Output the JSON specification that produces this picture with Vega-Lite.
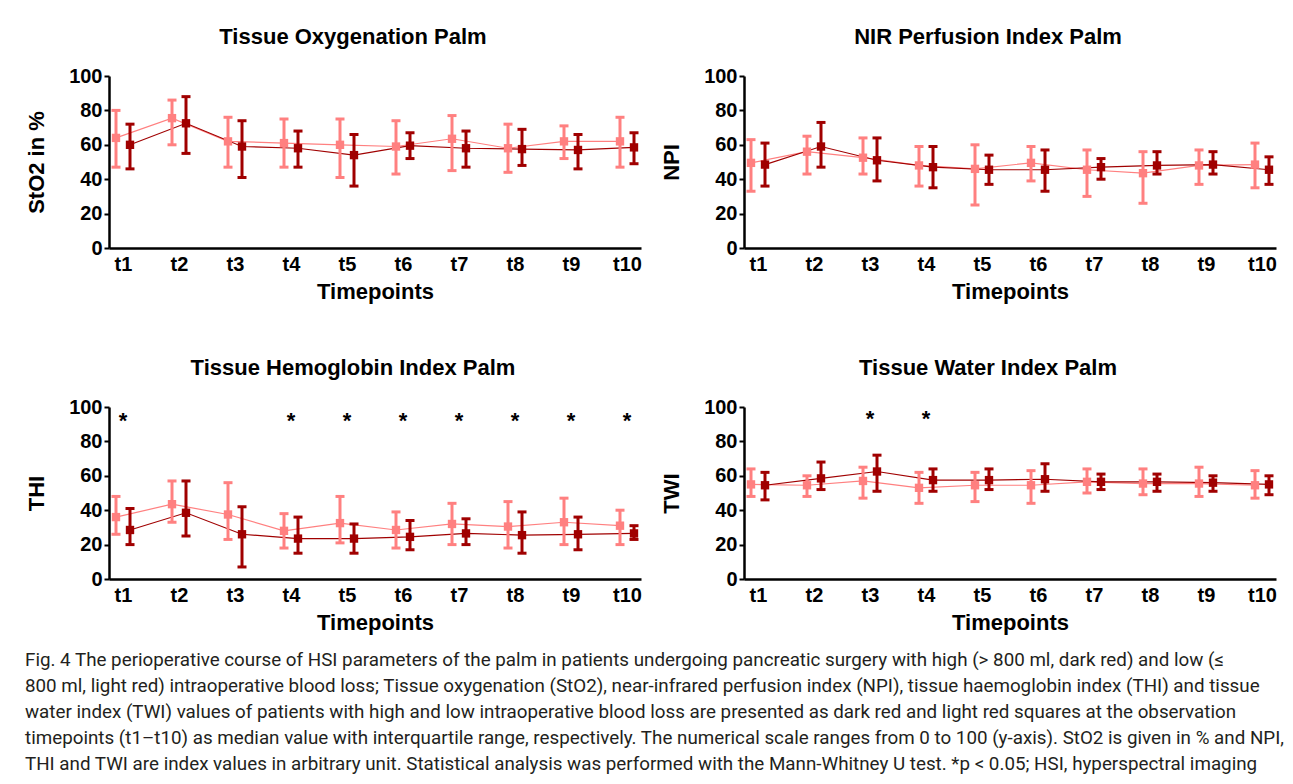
{
  "$schema": "https://vega.github.io/schema/vega-lite/v6.json",
  "background": "white",
  "padding": {"left": 25, "top": 26, "right": 0, "bottom": 0},
  "datasets": {
    "hsi": [
      {"panel": "StO2", "t": "t1", "g": "low", "med": 64, "lo": 47, "hi": 80},
      {"panel": "StO2", "t": "t2", "g": "low", "med": 75.5, "lo": 60, "hi": 86},
      {"panel": "StO2", "t": "t3", "g": "low", "med": 62, "lo": 47, "hi": 76},
      {"panel": "StO2", "t": "t4", "g": "low", "med": 61, "lo": 47, "hi": 75},
      {"panel": "StO2", "t": "t5", "g": "low", "med": 60, "lo": 41, "hi": 75},
      {"panel": "StO2", "t": "t6", "g": "low", "med": 59, "lo": 43, "hi": 74},
      {"panel": "StO2", "t": "t7", "g": "low", "med": 63.5, "lo": 45, "hi": 77},
      {"panel": "StO2", "t": "t8", "g": "low", "med": 58, "lo": 44, "hi": 72},
      {"panel": "StO2", "t": "t9", "g": "low", "med": 62, "lo": 52, "hi": 71},
      {"panel": "StO2", "t": "t10", "g": "low", "med": 62, "lo": 47, "hi": 76},
      {"panel": "StO2", "t": "t1", "g": "high", "med": 60, "lo": 46, "hi": 72},
      {"panel": "StO2", "t": "t2", "g": "high", "med": 72.5, "lo": 55, "hi": 88},
      {"panel": "StO2", "t": "t3", "g": "high", "med": 59, "lo": 41, "hi": 74},
      {"panel": "StO2", "t": "t4", "g": "high", "med": 58, "lo": 47, "hi": 68},
      {"panel": "StO2", "t": "t5", "g": "high", "med": 54, "lo": 36, "hi": 66},
      {"panel": "StO2", "t": "t6", "g": "high", "med": 59.5, "lo": 52, "hi": 67},
      {"panel": "StO2", "t": "t7", "g": "high", "med": 58, "lo": 47, "hi": 68},
      {"panel": "StO2", "t": "t8", "g": "high", "med": 57.5, "lo": 48, "hi": 69},
      {"panel": "StO2", "t": "t9", "g": "high", "med": 57, "lo": 46, "hi": 66},
      {"panel": "StO2", "t": "t10", "g": "high", "med": 58.5, "lo": 49, "hi": 67},

      {"panel": "NPI", "t": "t1", "g": "low", "med": 49.5, "lo": 33, "hi": 63},
      {"panel": "NPI", "t": "t2", "g": "low", "med": 56, "lo": 43, "hi": 65},
      {"panel": "NPI", "t": "t3", "g": "low", "med": 52.5, "lo": 43, "hi": 64},
      {"panel": "NPI", "t": "t4", "g": "low", "med": 48, "lo": 36, "hi": 59},
      {"panel": "NPI", "t": "t5", "g": "low", "med": 46, "lo": 25, "hi": 60},
      {"panel": "NPI", "t": "t6", "g": "low", "med": 49.5, "lo": 39, "hi": 59},
      {"panel": "NPI", "t": "t7", "g": "low", "med": 45.5, "lo": 30, "hi": 57},
      {"panel": "NPI", "t": "t8", "g": "low", "med": 43.5, "lo": 26, "hi": 56},
      {"panel": "NPI", "t": "t9", "g": "low", "med": 48, "lo": 37, "hi": 57},
      {"panel": "NPI", "t": "t10", "g": "low", "med": 48.5, "lo": 35, "hi": 61},
      {"panel": "NPI", "t": "t1", "g": "high", "med": 48.5, "lo": 36, "hi": 61},
      {"panel": "NPI", "t": "t2", "g": "high", "med": 59, "lo": 47, "hi": 73},
      {"panel": "NPI", "t": "t3", "g": "high", "med": 51, "lo": 39, "hi": 64},
      {"panel": "NPI", "t": "t4", "g": "high", "med": 47, "lo": 35, "hi": 59},
      {"panel": "NPI", "t": "t5", "g": "high", "med": 45.5, "lo": 37, "hi": 54},
      {"panel": "NPI", "t": "t6", "g": "high", "med": 45.5, "lo": 33, "hi": 57},
      {"panel": "NPI", "t": "t7", "g": "high", "med": 47, "lo": 40, "hi": 52},
      {"panel": "NPI", "t": "t8", "g": "high", "med": 48, "lo": 43, "hi": 56},
      {"panel": "NPI", "t": "t9", "g": "high", "med": 48.5, "lo": 43, "hi": 56},
      {"panel": "NPI", "t": "t10", "g": "high", "med": 45.5, "lo": 37, "hi": 53},

      {"panel": "THI", "t": "t1", "g": "low", "med": 36, "lo": 26, "hi": 48},
      {"panel": "THI", "t": "t2", "g": "low", "med": 43.5, "lo": 33, "hi": 57},
      {"panel": "THI", "t": "t3", "g": "low", "med": 37.5, "lo": 23, "hi": 56},
      {"panel": "THI", "t": "t4", "g": "low", "med": 28, "lo": 18, "hi": 38},
      {"panel": "THI", "t": "t5", "g": "low", "med": 32.5, "lo": 21, "hi": 48},
      {"panel": "THI", "t": "t6", "g": "low", "med": 28.5, "lo": 18, "hi": 39},
      {"panel": "THI", "t": "t7", "g": "low", "med": 32, "lo": 20, "hi": 44},
      {"panel": "THI", "t": "t8", "g": "low", "med": 30.5, "lo": 18, "hi": 45},
      {"panel": "THI", "t": "t9", "g": "low", "med": 33, "lo": 20, "hi": 47},
      {"panel": "THI", "t": "t10", "g": "low", "med": 31, "lo": 20, "hi": 40},
      {"panel": "THI", "t": "t1", "g": "high", "med": 28.5, "lo": 20, "hi": 41},
      {"panel": "THI", "t": "t2", "g": "high", "med": 38.5, "lo": 25, "hi": 57},
      {"panel": "THI", "t": "t3", "g": "high", "med": 26, "lo": 7, "hi": 42},
      {"panel": "THI", "t": "t4", "g": "high", "med": 23.5, "lo": 15, "hi": 36},
      {"panel": "THI", "t": "t5", "g": "high", "med": 23.5, "lo": 15, "hi": 32},
      {"panel": "THI", "t": "t6", "g": "high", "med": 24.5, "lo": 17, "hi": 34},
      {"panel": "THI", "t": "t7", "g": "high", "med": 26.5, "lo": 20, "hi": 35},
      {"panel": "THI", "t": "t8", "g": "high", "med": 25.5, "lo": 15, "hi": 39},
      {"panel": "THI", "t": "t9", "g": "high", "med": 26, "lo": 17, "hi": 36},
      {"panel": "THI", "t": "t10", "g": "high", "med": 26.5, "lo": 23, "hi": 31},

      {"panel": "TWI", "t": "t1", "g": "low", "med": 55, "lo": 48, "hi": 64},
      {"panel": "TWI", "t": "t2", "g": "low", "med": 54.5, "lo": 48, "hi": 60},
      {"panel": "TWI", "t": "t3", "g": "low", "med": 57, "lo": 47, "hi": 65},
      {"panel": "TWI", "t": "t4", "g": "low", "med": 53, "lo": 44, "hi": 62},
      {"panel": "TWI", "t": "t5", "g": "low", "med": 54.5, "lo": 45, "hi": 62},
      {"panel": "TWI", "t": "t6", "g": "low", "med": 54.5, "lo": 44, "hi": 63},
      {"panel": "TWI", "t": "t7", "g": "low", "med": 56.5, "lo": 50, "hi": 64},
      {"panel": "TWI", "t": "t8", "g": "low", "med": 55.5, "lo": 49, "hi": 64},
      {"panel": "TWI", "t": "t9", "g": "low", "med": 55.5, "lo": 48, "hi": 65},
      {"panel": "TWI", "t": "t10", "g": "low", "med": 54.5, "lo": 47, "hi": 63},
      {"panel": "TWI", "t": "t1", "g": "high", "med": 54.5, "lo": 46, "hi": 62},
      {"panel": "TWI", "t": "t2", "g": "high", "med": 58.5, "lo": 52, "hi": 68},
      {"panel": "TWI", "t": "t3", "g": "high", "med": 62.5, "lo": 51, "hi": 72},
      {"panel": "TWI", "t": "t4", "g": "high", "med": 57.5, "lo": 51, "hi": 64},
      {"panel": "TWI", "t": "t5", "g": "high", "med": 57.5, "lo": 52, "hi": 64},
      {"panel": "TWI", "t": "t6", "g": "high", "med": 58, "lo": 51, "hi": 67},
      {"panel": "TWI", "t": "t7", "g": "high", "med": 56.5, "lo": 52, "hi": 61},
      {"panel": "TWI", "t": "t8", "g": "high", "med": 56.5, "lo": 51, "hi": 61},
      {"panel": "TWI", "t": "t9", "g": "high", "med": 56, "lo": 51, "hi": 60},
      {"panel": "TWI", "t": "t10", "g": "high", "med": 55, "lo": 49, "hi": 60}
    ],
    "stars": [
      {"panel": "THI", "t": "t1"},
      {"panel": "THI", "t": "t4"},
      {"panel": "THI", "t": "t5"},
      {"panel": "THI", "t": "t6"},
      {"panel": "THI", "t": "t7"},
      {"panel": "THI", "t": "t8"},
      {"panel": "THI", "t": "t9"},
      {"panel": "THI", "t": "t10"},
      {"panel": "TWI", "t": "t3"},
      {"panel": "TWI", "t": "t4"}
    ]
  },
  "title": {
    "text": [
      "Fig. 4 The perioperative course of HSI parameters of the palm in patients undergoing pancreatic surgery with high (> 800 ml, dark red) and low (≤",
      "800 ml, light red) intraoperative blood loss; Tissue oxygenation (StO2), near-infrared perfusion index (NPI), tissue haemoglobin index (THI) and tissue",
      "water index (TWI) values of patients with high and low intraoperative blood loss are presented as dark red and light red squares at the observation",
      "timepoints (t1–t10) as median value with interquartile range, respectively. The numerical scale ranges from 0 to 100 (y-axis). StO2 is given in % and NPI,",
      "THI and TWI are index values in arbitrary unit. Statistical analysis was performed with the Mann-Whitney U test. *p < 0.05; HSI, hyperspectral imaging"
    ],
    "orient": "bottom",
    "anchor": "start",
    "frame": "bounds",
    "font": "Roboto",
    "fontSize": 18.8,
    "fontWeight": "normal",
    "lineHeight": 26,
    "color": "#231f20",
    "offset": 18
  },
  "vconcat": [
    {
      "hconcat": [
        {
          "width": 532, "height": 172,
          "title": {"text": "Tissue Oxygenation Palm", "dx": -22},
          "data": {"name": "hsi"},
          "transform": [{"filter": "datum.panel == 'StO2'"}],
          "encoding": {
            "x": {"field": "t", "type": "ordinal", "title": "Timepoints",
                  "scale": {"type": "point", "padding": 0.25, "domain": ["t1","t2","t3","t4","t5","t6","t7","t8","t9","t10"]}}
          },
          "layer": [
            {"transform": [{"filter": "datum.g == 'low'"}], "mark": {"type": "line", "color": "#FF8080", "strokeWidth": 1.2, "xOffset": -7},
             "encoding": {"y": {"field": "med", "type": "quantitative", "title": "StO2 in %", "scale": {"domain": [0, 100], "nice": false}}}},
            {"transform": [{"filter": "datum.g == 'high'"}], "mark": {"type": "line", "color": "#A00000", "strokeWidth": 1.2, "xOffset": 7},
             "encoding": {"y": {"field": "med", "type": "quantitative", "title": "StO2 in %", "scale": {"domain": [0, 100], "nice": false}}}},
            {"transform": [{"filter": "datum.g == 'low'"}], "mark": {"type": "rule", "color": "#FF8080", "strokeWidth": 3, "xOffset": -7},
             "encoding": {"y": {"field": "lo", "type": "quantitative", "title": "StO2 in %", "scale": {"domain": [0, 100], "nice": false}}, "y2": {"field": "hi"}}},
            {"transform": [{"filter": "datum.g == 'high'"}], "mark": {"type": "rule", "color": "#A00000", "strokeWidth": 3, "xOffset": 7},
             "encoding": {"y": {"field": "lo", "type": "quantitative", "title": "StO2 in %", "scale": {"domain": [0, 100], "nice": false}}, "y2": {"field": "hi"}}},
            {"transform": [{"filter": "datum.g == 'low'"}], "mark": {"type": "tick", "color": "#FF8080", "size": 9, "thickness": 3, "xOffset": -7, "opacity": 1},
             "encoding": {"y": {"field": "lo", "type": "quantitative", "title": "StO2 in %", "scale": {"domain": [0, 100], "nice": false}}}},
            {"transform": [{"filter": "datum.g == 'low'"}], "mark": {"type": "tick", "color": "#FF8080", "size": 9, "thickness": 3, "xOffset": -7, "opacity": 1},
             "encoding": {"y": {"field": "hi", "type": "quantitative", "title": "StO2 in %", "scale": {"domain": [0, 100], "nice": false}}}},
            {"transform": [{"filter": "datum.g == 'high'"}], "mark": {"type": "tick", "color": "#A00000", "size": 9, "thickness": 3, "xOffset": 7, "opacity": 1},
             "encoding": {"y": {"field": "lo", "type": "quantitative", "title": "StO2 in %", "scale": {"domain": [0, 100], "nice": false}}}},
            {"transform": [{"filter": "datum.g == 'high'"}], "mark": {"type": "tick", "color": "#A00000", "size": 9, "thickness": 3, "xOffset": 7, "opacity": 1},
             "encoding": {"y": {"field": "hi", "type": "quantitative", "title": "StO2 in %", "scale": {"domain": [0, 100], "nice": false}}}},
            {"transform": [{"filter": "datum.g == 'low'"}], "mark": {"type": "square", "color": "#FF8080", "size": 70, "filled": true, "opacity": 1, "xOffset": -7},
             "encoding": {"y": {"field": "med", "type": "quantitative", "title": "StO2 in %", "scale": {"domain": [0, 100], "nice": false}}}},
            {"transform": [{"filter": "datum.g == 'high'"}], "mark": {"type": "square", "color": "#A00000", "size": 70, "filled": true, "opacity": 1, "xOffset": 7},
             "encoding": {"y": {"field": "med", "type": "quantitative", "title": "StO2 in %", "scale": {"domain": [0, 100], "nice": false}}}}
          ]
        },
        {
          "width": 532, "height": 172,
          "title": {"text": "NIR Perfusion Index Palm", "dx": -22},
          "data": {"name": "hsi"},
          "transform": [{"filter": "datum.panel == 'NPI'"}],
          "encoding": {
            "x": {"field": "t", "type": "ordinal", "title": "Timepoints",
                  "scale": {"type": "point", "padding": 0.25, "domain": ["t1","t2","t3","t4","t5","t6","t7","t8","t9","t10"]}}
          },
          "layer": [
            {"transform": [{"filter": "datum.g == 'low'"}], "mark": {"type": "line", "color": "#FF8080", "strokeWidth": 1.2, "xOffset": -7},
             "encoding": {"y": {"field": "med", "type": "quantitative", "title": "NPI", "scale": {"domain": [0, 100], "nice": false}}}},
            {"transform": [{"filter": "datum.g == 'high'"}], "mark": {"type": "line", "color": "#A00000", "strokeWidth": 1.2, "xOffset": 7},
             "encoding": {"y": {"field": "med", "type": "quantitative", "title": "NPI", "scale": {"domain": [0, 100], "nice": false}}}},
            {"transform": [{"filter": "datum.g == 'low'"}], "mark": {"type": "rule", "color": "#FF8080", "strokeWidth": 3, "xOffset": -7},
             "encoding": {"y": {"field": "lo", "type": "quantitative", "title": "NPI", "scale": {"domain": [0, 100], "nice": false}}, "y2": {"field": "hi"}}},
            {"transform": [{"filter": "datum.g == 'high'"}], "mark": {"type": "rule", "color": "#A00000", "strokeWidth": 3, "xOffset": 7},
             "encoding": {"y": {"field": "lo", "type": "quantitative", "title": "NPI", "scale": {"domain": [0, 100], "nice": false}}, "y2": {"field": "hi"}}},
            {"transform": [{"filter": "datum.g == 'low'"}], "mark": {"type": "tick", "color": "#FF8080", "size": 9, "thickness": 3, "xOffset": -7, "opacity": 1},
             "encoding": {"y": {"field": "lo", "type": "quantitative", "title": "NPI", "scale": {"domain": [0, 100], "nice": false}}}},
            {"transform": [{"filter": "datum.g == 'low'"}], "mark": {"type": "tick", "color": "#FF8080", "size": 9, "thickness": 3, "xOffset": -7, "opacity": 1},
             "encoding": {"y": {"field": "hi", "type": "quantitative", "title": "NPI", "scale": {"domain": [0, 100], "nice": false}}}},
            {"transform": [{"filter": "datum.g == 'high'"}], "mark": {"type": "tick", "color": "#A00000", "size": 9, "thickness": 3, "xOffset": 7, "opacity": 1},
             "encoding": {"y": {"field": "lo", "type": "quantitative", "title": "NPI", "scale": {"domain": [0, 100], "nice": false}}}},
            {"transform": [{"filter": "datum.g == 'high'"}], "mark": {"type": "tick", "color": "#A00000", "size": 9, "thickness": 3, "xOffset": 7, "opacity": 1},
             "encoding": {"y": {"field": "hi", "type": "quantitative", "title": "NPI", "scale": {"domain": [0, 100], "nice": false}}}},
            {"transform": [{"filter": "datum.g == 'low'"}], "mark": {"type": "square", "color": "#FF8080", "size": 70, "filled": true, "opacity": 1, "xOffset": -7},
             "encoding": {"y": {"field": "med", "type": "quantitative", "title": "NPI", "scale": {"domain": [0, 100], "nice": false}}}},
            {"transform": [{"filter": "datum.g == 'high'"}], "mark": {"type": "square", "color": "#A00000", "size": 70, "filled": true, "opacity": 1, "xOffset": 7},
             "encoding": {"y": {"field": "med", "type": "quantitative", "title": "NPI", "scale": {"domain": [0, 100], "nice": false}}}}
          ]
        }
      ]
    },
    {
      "hconcat": [
        {
          "width": 532, "height": 172,
          "title": {"text": "Tissue Hemoglobin Index Palm", "dx": -22},
          "data": {"name": "hsi"},
          "transform": [{"filter": "datum.panel == 'THI'"}],
          "encoding": {
            "x": {"field": "t", "type": "ordinal", "title": "Timepoints",
                  "scale": {"type": "point", "padding": 0.25, "domain": ["t1","t2","t3","t4","t5","t6","t7","t8","t9","t10"]}}
          },
          "layer": [
            {"transform": [{"filter": "datum.g == 'low'"}], "mark": {"type": "line", "color": "#FF8080", "strokeWidth": 1.2, "xOffset": -7},
             "encoding": {"y": {"field": "med", "type": "quantitative", "title": "THI", "scale": {"domain": [0, 100], "nice": false}}}},
            {"transform": [{"filter": "datum.g == 'high'"}], "mark": {"type": "line", "color": "#A00000", "strokeWidth": 1.2, "xOffset": 7},
             "encoding": {"y": {"field": "med", "type": "quantitative", "title": "THI", "scale": {"domain": [0, 100], "nice": false}}}},
            {"transform": [{"filter": "datum.g == 'low'"}], "mark": {"type": "rule", "color": "#FF8080", "strokeWidth": 3, "xOffset": -7},
             "encoding": {"y": {"field": "lo", "type": "quantitative", "title": "THI", "scale": {"domain": [0, 100], "nice": false}}, "y2": {"field": "hi"}}},
            {"transform": [{"filter": "datum.g == 'high'"}], "mark": {"type": "rule", "color": "#A00000", "strokeWidth": 3, "xOffset": 7},
             "encoding": {"y": {"field": "lo", "type": "quantitative", "title": "THI", "scale": {"domain": [0, 100], "nice": false}}, "y2": {"field": "hi"}}},
            {"transform": [{"filter": "datum.g == 'low'"}], "mark": {"type": "tick", "color": "#FF8080", "size": 9, "thickness": 3, "xOffset": -7, "opacity": 1},
             "encoding": {"y": {"field": "lo", "type": "quantitative", "title": "THI", "scale": {"domain": [0, 100], "nice": false}}}},
            {"transform": [{"filter": "datum.g == 'low'"}], "mark": {"type": "tick", "color": "#FF8080", "size": 9, "thickness": 3, "xOffset": -7, "opacity": 1},
             "encoding": {"y": {"field": "hi", "type": "quantitative", "title": "THI", "scale": {"domain": [0, 100], "nice": false}}}},
            {"transform": [{"filter": "datum.g == 'high'"}], "mark": {"type": "tick", "color": "#A00000", "size": 9, "thickness": 3, "xOffset": 7, "opacity": 1},
             "encoding": {"y": {"field": "lo", "type": "quantitative", "title": "THI", "scale": {"domain": [0, 100], "nice": false}}}},
            {"transform": [{"filter": "datum.g == 'high'"}], "mark": {"type": "tick", "color": "#A00000", "size": 9, "thickness": 3, "xOffset": 7, "opacity": 1},
             "encoding": {"y": {"field": "hi", "type": "quantitative", "title": "THI", "scale": {"domain": [0, 100], "nice": false}}}},
            {"transform": [{"filter": "datum.g == 'low'"}], "mark": {"type": "square", "color": "#FF8080", "size": 70, "filled": true, "opacity": 1, "xOffset": -7},
             "encoding": {"y": {"field": "med", "type": "quantitative", "title": "THI", "scale": {"domain": [0, 100], "nice": false}}}},
            {"transform": [{"filter": "datum.g == 'high'"}], "mark": {"type": "square", "color": "#A00000", "size": 70, "filled": true, "opacity": 1, "xOffset": 7},
             "encoding": {"y": {"field": "med", "type": "quantitative", "title": "THI", "scale": {"domain": [0, 100], "nice": false}}}},
            {"data": {"name": "stars"}, "transform": [{"filter": "datum.panel == 'THI'"}],
             "mark": {"type": "text", "text": "*", "fontSize": 22, "fontWeight": "bold", "baseline": "middle", "color": "black"},
             "encoding": {"y": {"datum": 92, "type": "quantitative", "title": "THI", "scale": {"domain": [0, 100], "nice": false}}}}
          ]
        },
        {
          "width": 532, "height": 172,
          "title": {"text": "Tissue Water Index Palm", "dx": -22},
          "data": {"name": "hsi"},
          "transform": [{"filter": "datum.panel == 'TWI'"}],
          "encoding": {
            "x": {"field": "t", "type": "ordinal", "title": "Timepoints",
                  "scale": {"type": "point", "padding": 0.25, "domain": ["t1","t2","t3","t4","t5","t6","t7","t8","t9","t10"]}}
          },
          "layer": [
            {"transform": [{"filter": "datum.g == 'low'"}], "mark": {"type": "line", "color": "#FF8080", "strokeWidth": 1.2, "xOffset": -7},
             "encoding": {"y": {"field": "med", "type": "quantitative", "title": "TWI", "scale": {"domain": [0, 100], "nice": false}}}},
            {"transform": [{"filter": "datum.g == 'high'"}], "mark": {"type": "line", "color": "#A00000", "strokeWidth": 1.2, "xOffset": 7},
             "encoding": {"y": {"field": "med", "type": "quantitative", "title": "TWI", "scale": {"domain": [0, 100], "nice": false}}}},
            {"transform": [{"filter": "datum.g == 'low'"}], "mark": {"type": "rule", "color": "#FF8080", "strokeWidth": 3, "xOffset": -7},
             "encoding": {"y": {"field": "lo", "type": "quantitative", "title": "TWI", "scale": {"domain": [0, 100], "nice": false}}, "y2": {"field": "hi"}}},
            {"transform": [{"filter": "datum.g == 'high'"}], "mark": {"type": "rule", "color": "#A00000", "strokeWidth": 3, "xOffset": 7},
             "encoding": {"y": {"field": "lo", "type": "quantitative", "title": "TWI", "scale": {"domain": [0, 100], "nice": false}}, "y2": {"field": "hi"}}},
            {"transform": [{"filter": "datum.g == 'low'"}], "mark": {"type": "tick", "color": "#FF8080", "size": 9, "thickness": 3, "xOffset": -7, "opacity": 1},
             "encoding": {"y": {"field": "lo", "type": "quantitative", "title": "TWI", "scale": {"domain": [0, 100], "nice": false}}}},
            {"transform": [{"filter": "datum.g == 'low'"}], "mark": {"type": "tick", "color": "#FF8080", "size": 9, "thickness": 3, "xOffset": -7, "opacity": 1},
             "encoding": {"y": {"field": "hi", "type": "quantitative", "title": "TWI", "scale": {"domain": [0, 100], "nice": false}}}},
            {"transform": [{"filter": "datum.g == 'high'"}], "mark": {"type": "tick", "color": "#A00000", "size": 9, "thickness": 3, "xOffset": 7, "opacity": 1},
             "encoding": {"y": {"field": "lo", "type": "quantitative", "title": "TWI", "scale": {"domain": [0, 100], "nice": false}}}},
            {"transform": [{"filter": "datum.g == 'high'"}], "mark": {"type": "tick", "color": "#A00000", "size": 9, "thickness": 3, "xOffset": 7, "opacity": 1},
             "encoding": {"y": {"field": "hi", "type": "quantitative", "title": "TWI", "scale": {"domain": [0, 100], "nice": false}}}},
            {"transform": [{"filter": "datum.g == 'low'"}], "mark": {"type": "square", "color": "#FF8080", "size": 70, "filled": true, "opacity": 1, "xOffset": -7},
             "encoding": {"y": {"field": "med", "type": "quantitative", "title": "TWI", "scale": {"domain": [0, 100], "nice": false}}}},
            {"transform": [{"filter": "datum.g == 'high'"}], "mark": {"type": "square", "color": "#A00000", "size": 70, "filled": true, "opacity": 1, "xOffset": 7},
             "encoding": {"y": {"field": "med", "type": "quantitative", "title": "TWI", "scale": {"domain": [0, 100], "nice": false}}}},
            {"data": {"name": "stars"}, "transform": [{"filter": "datum.panel == 'TWI'"}],
             "mark": {"type": "text", "text": "*", "fontSize": 22, "fontWeight": "bold", "baseline": "middle", "color": "black"},
             "encoding": {"y": {"datum": 93, "type": "quantitative", "title": "TWI", "scale": {"domain": [0, 100], "nice": false}}}}
          ]
        }
      ]
    }
  ],
  "spacing": 55,
  "config": {
    "view": {"stroke": null},
    "concat": {"spacing": 18},
    "font": "Liberation Sans",
    "axis": {
      "grid": false,
      "domainColor": "black",
      "domainWidth": 2.5,
      "tickColor": "black",
      "tickWidth": 2,
      "labelFont": "Liberation Sans",
      "labelFontWeight": "bold",
      "labelFontSize": 20,
      "labelColor": "black",
      "titleFont": "Liberation Sans",
      "titleFontSize": 22,
      "titleFontWeight": "bold",
      "titleColor": "black"
    },
    "axisX": {"ticks": false, "labelAngle": 0, "labelPadding": 6, "titlePadding": 7},
    "axisY": {"tickSize": 5, "labelPadding": 2, "values": [0, 20, 40, 60, 80, 100], "minExtent": 40, "maxExtent": 40, "titlePadding": 21},
    "title": {"font": "Liberation Sans", "fontSize": 22, "fontWeight": "bold", "color": "black", "offset": 17, "anchor": "middle", "frame": "group"}
  }
}
